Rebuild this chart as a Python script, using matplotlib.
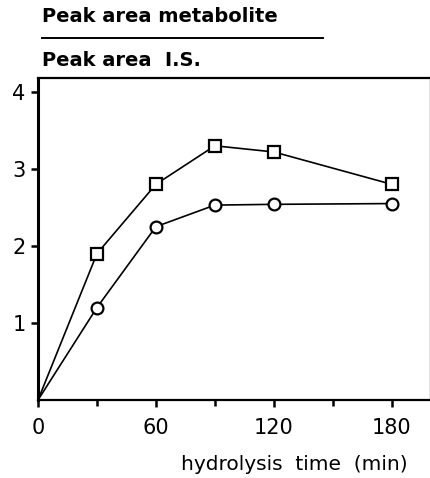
import matplotlib
matplotlib.use("Agg")
import matplotlib.pyplot as plt
from matplotlib import font_manager as fm
from matplotlib.lines import Line2D

names = {f.name for f in fm.fontManager.ttflist}
fam = "DejaVu Sans"
for cand in ["Liberation Sans Narrow", "DejaVu Sans Condensed"]:
    if cand in names:
        fam = cand
        break
plt.rcParams['font.family'] = [fam, 'DejaVu Sans']

time_min = [0, 30, 60, 90, 120, 180]
ratio_square = [0, 1.9, 2.8, 3.3, 3.22, 2.8]
ratio_circle = [0, 1.2, 2.25, 2.53, 2.54, 2.55]
xticks = [0, 60, 120, 180]
xminor = [30, 90, 150]
yticks = [1, 2, 3, 4]

fig = plt.figure(figsize=(4.31, 4.78), dpi=100)
ax = fig.add_axes([38/431, (478-400)/478, 393/431, 322/478])

ax.plot(time_min, ratio_square, color='black', lw=1.2, marker='s', ms=8,
        mfc='white', mec='black', mew=1.6, clip_on=False, zorder=3,
        markevery=list(range(1, 6)))
ax.plot(time_min, ratio_circle, color='black', lw=1.2, marker='o', ms=8.5,
        mfc='white', mec='black', mew=1.6, clip_on=False, zorder=3,
        markevery=list(range(1, 6)))

ax.set_xlim(0, 200)
ax.set_ylim(0, 4.18)
ax.set_xticks(xticks)
ax.set_xticks(xminor, minor=True)
ax.set_yticks(yticks)
ax.tick_params(axis='both', which='both', direction='out', width=1.8, labelsize=15, color='black')
ax.tick_params(axis='x', which='major', length=5, pad=8)
ax.tick_params(axis='y', which='major', length=5, pad=4)
ax.tick_params(axis='x', which='minor', length=4)
ax.spines['left'].set_linewidth(2.2)
for s in ['bottom', 'top', 'right']:
    ax.spines[s].set_linewidth(1.6)

fig.text(408/431, 1 - 465/478, "hydrolysis  time  (min)", ha='right', va='center', fontsize=14.5)
fig.text(42/431, 1 - 16/478, "Peak area metabolite", ha='left', va='center', fontsize=14, fontweight='bold')
fig.text(42/431, 1 - 60/478, "Peak area  I.S.", ha='left', va='center', fontsize=14, fontweight='bold')
fig.add_artist(Line2D([42/431, 323/431], [1 - 38/478, 1 - 38/478], color='black', lw=1.4,
                      transform=fig.transFigure))

fig.savefig("out.png", dpi=100)
